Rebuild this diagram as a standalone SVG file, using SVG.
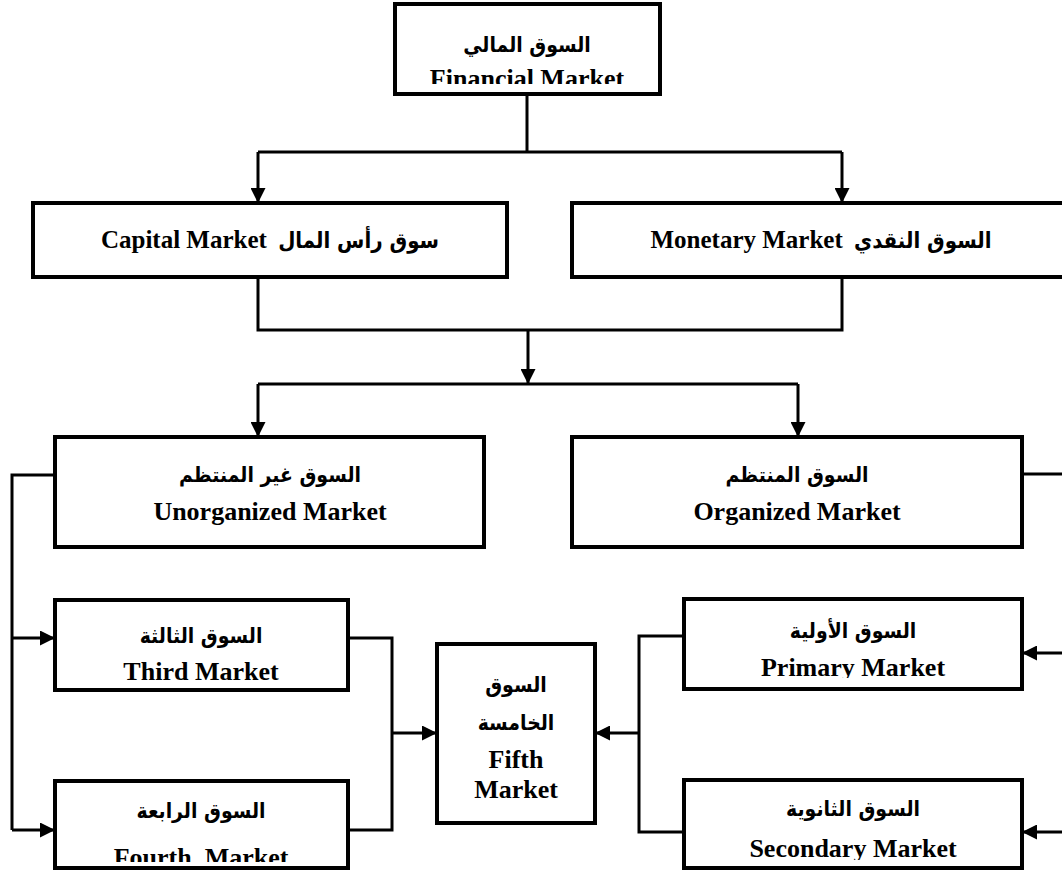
<svg xmlns="http://www.w3.org/2000/svg" width="1062" height="870" viewBox="0 0 1062 870">
<style>
.box{fill:#fff;stroke:#000;stroke-width:4}
.ln{fill:none;stroke:#000;stroke-width:3}
.en{font-family:"Liberation Serif","Times New Roman",serif;font-weight:bold;font-size:26px;fill:#000;text-anchor:middle}
.ar{font-family:"DejaVu Sans Condensed","DejaVu Sans",sans-serif;font-weight:bold;font-size:21px;fill:#000;text-anchor:middle}
.mx{font-family:"Liberation Serif","DejaVu Sans Condensed","DejaVu Sans",serif;font-weight:bold;font-size:25px;fill:#000;text-anchor:middle}
.ma{font-family:"DejaVu Sans Condensed","DejaVu Sans",sans-serif;font-weight:bold;font-size:22px}
</style>
<defs>
<marker id="ah" viewBox="0 0 10 10" refX="10" refY="5" markerWidth="5.5" markerHeight="5" markerUnits="strokeWidth" orient="auto">
<path d="M0,0 L10,5 L0,10 Z" fill="#000"/>
</marker>
<clipPath id="c1"><rect x="395" y="4" width="265" height="80"/></clipPath>
<clipPath id="c2"><rect x="55" y="781" width="293" height="81"/></clipPath>
<clipPath id="c3"><rect x="684" y="599" width="338" height="79"/></clipPath>
<clipPath id="c4"><rect x="684" y="780" width="338" height="80"/></clipPath>
</defs>
<rect width="1062" height="870" fill="#fff"/>
<g id="connectors">
<path class="ln" d="M527,94 V152 M258,152 H842"/>
<path class="ln" d="M258,152 V203" marker-end="url(#ah)"/>
<path class="ln" d="M842,152 V203" marker-end="url(#ah)"/>
<path class="ln" d="M258,277 V330 H842 V277"/>
<path class="ln" d="M528,330 V384" marker-end="url(#ah)"/>
<path class="ln" d="M258,384 H798"/>
<path class="ln" d="M258,384 V437" marker-end="url(#ah)"/>
<path class="ln" d="M798,384 V437" marker-end="url(#ah)"/>
<path class="ln" d="M55,475 H12 V830"/>
<path class="ln" d="M12,638 H55" marker-end="url(#ah)"/>
<path class="ln" d="M12,830 H55" marker-end="url(#ah)"/>
<path class="ln" d="M348,638 H392 V830 H348"/>
<path class="ln" d="M392,733 H437" marker-end="url(#ah)"/>
<path class="ln" d="M1022,474 H1080 V832"/>
<path class="ln" d="M1080,653 H1022" marker-end="url(#ah)"/>
<path class="ln" d="M1080,832 H1022" marker-end="url(#ah)"/>
<path class="ln" d="M684,636 H639 V832 H684"/>
<path class="ln" d="M639,733 H595" marker-end="url(#ah)"/>
</g>
<g id="financial">
<rect class="box" x="395" y="4" width="265" height="90"/>
<text class="ar" x="527" y="52">السوق المالي</text>
<text class="en" x="527" y="87" clip-path="url(#c1)">Financial Market</text>
</g>
<g id="capital">
<rect class="box" x="33" y="203" width="474" height="74"/>
<text class="mx" x="270" y="248">Capital Market <tspan class="ma" dx="5">سوق رأس المال</tspan></text>
</g>
<g id="monetary">
<rect class="box" x="572" y="203" width="500" height="74"/>
<text class="mx" x="821" y="248">Monetary Market <tspan class="ma" dx="5">السوق النقدي</tspan></text>
</g>
<g id="unorganized">
<rect class="box" x="55" y="437" width="429" height="110"/>
<text class="ar" x="270" y="482">السوق غير المنتظم</text>
<text class="en" x="270" y="520">Unorganized Market</text>
</g>
<g id="organized">
<rect class="box" x="572" y="437" width="450" height="110"/>
<text class="ar" x="797" y="482">السوق المنتظم</text>
<text class="en" x="797" y="520">Organized Market</text>
</g>
<g id="third">
<rect class="box" x="55" y="600" width="293" height="90"/>
<text class="ar" x="201" y="643">السوق الثالثة</text>
<text class="en" x="201" y="680">Third Market</text>
</g>
<g id="fourth">
<rect class="box" x="55" y="781" width="293" height="87"/>
<text class="ar" x="201" y="818">السوق الرابعة</text>
<text class="en" x="201" y="866" clip-path="url(#c2)" xml:space="preserve">Fourth  Market</text>
</g>
<g id="fifth">
<rect class="box" x="437" y="644" width="158" height="179"/>
<text class="ar" x="516" y="692">السوق</text>
<text class="ar" x="516" y="730">الخامسة</text>
<text class="en" x="516" y="768">Fifth</text>
<text class="en" x="516" y="798">Market</text>
</g>
<g id="primary">
<rect class="box" x="684" y="599" width="338" height="90"/>
<text class="ar" x="853" y="638">السوق الأولية</text>
<text class="en" x="853" y="676" clip-path="url(#c3)">Primary Market</text>
</g>
<g id="secondary">
<rect class="box" x="684" y="780" width="338" height="88"/>
<text class="ar" x="853" y="816">السوق الثانوية</text>
<text class="en" x="853" y="857" clip-path="url(#c4)">Secondary Market</text>
</g>
</svg>
